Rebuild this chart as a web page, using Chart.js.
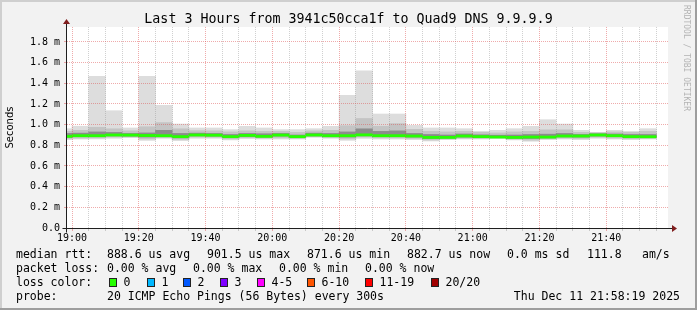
<!DOCTYPE html>
<html>
<head>
<meta charset="utf-8">
<script src="https://cdn.jsdelivr.net/npm/chart.js@4/dist/chart.umd.min.js"></script>
<style>
    html, body { margin: 0; padding: 0; background: #f2f2f2; }
    #wrap { position: relative; width: 697px; height: 310px; overflow: hidden; }
    #wrap canvas { position: absolute; left: 0; top: 0; }
    .txt { position: absolute; font-family: 'DejaVu Sans Mono', monospace; font-size: 11.5px; line-height: 14px; color: #000; white-space: pre; }
    #title { position: absolute; left: 0; top: 11px; width: 697px; text-align: center; font-family: 'DejaVu Sans Mono', monospace; font-size: 13.3px; line-height: 16px; color: #000; white-space: pre; }
    #mark { position: absolute; left: 682px; top: 5px; writing-mode: vertical-rl; font-family: 'DejaVu Sans Mono', monospace; font-size: 8px; line-height: 9px; color: #b4b4b4; white-space: pre; }
    .box { position: absolute; width: 8px; height: 9px; box-sizing: border-box; border: 1px solid #222; }
    .edge { position: absolute; }
</style>
</head>
<body>
<div id="wrap">
    <canvas id="chart" width="697" height="310"></canvas>
    <div id="title">Last 3 Hours from 3941c50cca1f to Quad9 DNS 9.9.9.9</div>
    <div id="mark">RRDTOOL / TOBI OETIKER</div>
    <div id="legend"></div>
    <div class="edge" style="left:0;top:0;width:697px;height:2px;background:#cfcfcf"></div>
    <div class="edge" style="left:0;top:0;width:2px;height:310px;background:#cfcfcf"></div>
    <div class="edge" style="left:0;top:308px;width:697px;height:2px;background:#9e9e9e"></div>
    <div class="edge" style="left:695px;top:0;width:2px;height:310px;background:#9e9e9e"></div>
</div>
<script>
// 5 minute slots (start time), 20 pings each, values in ms
let slots = ['18:55', '19:00', '19:05', '19:10', '19:15', '19:20', '19:25', '19:30', '19:35', '19:40', '19:45', '19:50',
    '19:55', '20:00', '20:05', '20:10', '20:15', '20:20', '20:25', '20:30', '20:35', '20:40', '20:45', '20:50',
    '20:55', '21:00', '21:05', '21:10', '21:15', '21:20', '21:25', '21:30', '21:35', '21:40', '21:45', '21:50'];
let pingMin = [0.855, 0.861, 0.861, 0.868, 0.874, 0.848, 0.868, 0.845, 0.868, 0.868, 0.852, 0.865,
    0.861, 0.861, 0.861, 0.877, 0.868, 0.848, 0.868, 0.861, 0.861, 0.855, 0.842, 0.855,
    0.861, 0.861, 0.868, 0.852, 0.839, 0.855, 0.861, 0.855, 0.868, 0.861, 0.855, 0.861];
let pingLow = [0.866, 0.870, 0.872, 0.880, 0.882, 0.862, 0.876, 0.858, 0.880, 0.878, 0.862, 0.874,
    0.870, 0.872, 0.868, 0.884, 0.876, 0.862, 0.880, 0.872, 0.872, 0.866, 0.852, 0.862,
    0.868, 0.868, 0.872, 0.860, 0.850, 0.864, 0.870, 0.866, 0.878, 0.870, 0.864, 0.868];
let pingQ1 = [0.878, 0.884, 0.885, 0.892, 0.890, 0.880, 0.885, 0.872, 0.892, 0.890, 0.874, 0.886,
    0.880, 0.890, 0.876, 0.892, 0.885, 0.880, 0.892, 0.884, 0.884, 0.880, 0.866, 0.870,
    0.880, 0.876, 0.876, 0.868, 0.866, 0.872, 0.882, 0.880, 0.890, 0.884, 0.874, 0.876];
let median = [0.887, 0.893, 0.893, 0.900, 0.899, 0.895, 0.893, 0.884, 0.900, 0.898, 0.884, 0.896,
    0.887, 0.899, 0.884, 0.900, 0.893, 0.893, 0.901, 0.893, 0.893, 0.890, 0.877, 0.877,
    0.890, 0.884, 0.880, 0.877, 0.880, 0.880, 0.890, 0.890, 0.900, 0.893, 0.884, 0.883];
let pingQ3 = [0.915, 0.918, 0.930, 0.925, 0.915, 0.920, 0.945, 0.915, 0.918, 0.915, 0.905, 0.915,
    0.912, 0.915, 0.900, 0.918, 0.915, 0.930, 0.960, 0.935, 0.940, 0.915, 0.905, 0.900,
    0.910, 0.902, 0.898, 0.900, 0.905, 0.908, 0.915, 0.905, 0.912, 0.910, 0.905, 0.905];
let pingHigh = [0.935, 0.945, 0.975, 0.960, 0.940, 0.980, 1.020, 0.960, 0.942, 0.940, 0.930, 0.940,
    0.935, 0.935, 0.925, 0.940, 0.945, 0.990, 1.060, 0.985, 1.010, 0.955, 0.935, 0.930,
    0.935, 0.925, 0.920, 0.930, 0.935, 0.950, 0.950, 0.925, 0.922, 0.930, 0.925, 0.935];
let pingMax = [0.961, 0.985, 1.467, 1.135, 0.968, 1.467, 1.187, 1.006, 0.968, 0.968, 0.952, 0.984,
    0.968, 0.952, 0.952, 0.961, 0.984, 1.284, 1.522, 1.103, 1.103, 0.993, 0.968, 0.968,
    0.961, 0.935, 0.945, 0.961, 0.984, 1.048, 1.006, 0.945, 0.926, 0.945, 0.935, 0.961];

let xTicks = [];
for (let m = 0; m <= 175; m += 5) xTicks.push(m);
let yTicks = [0, 0.1, 0.2, 0.3, 0.4, 0.5, 0.6, 0.7, 0.8, 0.9, 1.0, 1.1, 1.2, 1.3, 1.4, 1.5, 1.6, 1.7, 1.8, 1.9];

let legendRows = [
    { y: 247, items: [[16, 'median rtt:'], [107, '888.6 us avg'], [207, '901.5 us max'], [307, '871.6 us min'],
        [407, '882.7 us now'], [507, '0.0 ms sd'], [587, '111.8'], [642, 'am/s']] },
    { y: 261, items: [[16, 'packet loss:'], [107, '0.00 % avg'], [193, '0.00 % max'], [279, '0.00 % min'], [365, '0.00 % now']] },
    { y: 275, items: [[16, 'loss color:']] },
    { y: 289, items: [[16, 'probe:'], [107, '20 ICMP Echo Pings (56 Bytes) every 300s']] }
];
let lossLabels = ['0', '1', '2', '3', '4-5', '6-10', '11-19', '20/20'];
let lossColors = ['#26ff00', '#00b8ff', '#0059ff', '#7e00ff', '#ff00ff', '#ff5500', '#ff0000', '#a10000'];
let lossBoxX = [109, 147, 183, 220, 257, 307, 365, 431];

function slotCenter(s) {
    let parts = s.split(':');
    return (Number(parts[0]) - 19) * 60 + Number(parts[1]) + 2.5;
}

function band(lo, hi) {
    return slots.map(function (s, i) {
        return { x: slotCenter(s), y: [lo[i], hi[i]] };
    });
}

function timeLabel(v) {
    let h = 19 + Math.floor(v / 60);
    let m = v % 60;
    return h + ':' + (m < 10 ? '0' + m : m);
}

let legend = document.getElementById('legend');
for (let row of legendRows) {
    for (let item of row.items) {
        let span = document.createElement('div');
        span.className = 'txt';
        span.style.left = item[0] + 'px';
        span.style.top = row.y + 'px';
        span.textContent = item[1];
        legend.appendChild(span);
    }
}
for (let i = 0; i < lossLabels.length; i++) {
    let box = document.createElement('div');
    box.className = 'box';
    box.style.left = lossBoxX[i] + 'px';
    box.style.top = '278px';
    box.style.background = lossColors[i];
    legend.appendChild(box);
    let label = document.createElement('div');
    label.className = 'txt';
    label.style.left = (lossBoxX[i] + 14.5) + 'px';
    label.style.top = '275px';
    label.textContent = lossLabels[i];
    legend.appendChild(label);
}
let stamp = document.createElement('div');
stamp.className = 'txt';
stamp.style.right = '17px';
stamp.style.top = '289px';
stamp.textContent = 'Thu Dec 11 21:58:19 2025';
legend.appendChild(stamp);

let frame = {
    id: 'frame',
    beforeDraw: function (chart) {
        let ctx = chart.ctx;
        let a = chart.chartArea;
        ctx.save();
        ctx.fillStyle = '#f2f2f2';
        ctx.fillRect(0, 0, chart.width, chart.height);
        ctx.fillStyle = '#ffffff';
        ctx.fillRect(a.left, a.top, a.right - a.left, a.bottom - a.top);
        ctx.restore();
    },
    afterDraw: function (chart) {
        let ctx = chart.ctx;
        let a = chart.chartArea;
        let x0 = Math.round(a.left) - 0.5;
        let y0 = Math.round(a.bottom) + 0.5;
        ctx.save();
        ctx.strokeStyle = '#1f1f1f';
        ctx.lineWidth = 1;
        ctx.beginPath();
        ctx.moveTo(x0 - 4, y0);
        ctx.lineTo(a.right + 5, y0);
        ctx.moveTo(x0, y0 + 4);
        ctx.lineTo(x0, a.top - 3);
        ctx.stroke();
        ctx.fillStyle = '#801f1f';
        ctx.beginPath();
        ctx.moveTo(a.right + 4, y0 - 3.5);
        ctx.lineTo(a.right + 9, y0);
        ctx.lineTo(a.right + 4, y0 + 3.5);
        ctx.fill();
        ctx.beginPath();
        ctx.moveTo(x0 - 3.5, a.top - 3);
        ctx.lineTo(x0, a.top - 8);
        ctx.lineTo(x0 + 3.5, a.top - 3);
        ctx.fill();
        ctx.restore();
    }
};

function layer(lo, hi, color, order) {
    return {
        data: band(lo, hi),
        backgroundColor: color,
        borderWidth: 0,
        grouped: false,
        barPercentage: 1,
        categoryPercentage: 1,
        order: order
    };
}

let greenLo = median.map(function (v) { return v - 0.0105; });
let greenHi = median.map(function (v) { return v + 0.0105; });

let minorGrid = 'rgba(143, 143, 143, 0.42)';
let majorGrid = 'rgba(222, 79, 79, 0.48)';

new Chart(document.getElementById('chart').getContext('2d'), {
    type: 'bar',
    data: {
        datasets: [
            layer(pingMin, pingMax, '#dddddd', 5),
            layer(pingLow, pingHigh, '#c4c4c4', 4),
            layer(pingQ1, pingQ3, '#8c8c8c', 3),
            layer(greenLo, greenHi, '#26ff00', 1)
        ]
    },
    plugins: [frame],
    options: {
        responsive: false,
        animation: false,
        devicePixelRatio: 1,
        events: [],
        layout: { padding: { top: 27, right: 29, left: 0, bottom: 0 } },
        plugins: { legend: { display: false }, tooltip: { enabled: false }, title: { display: false } },
        scales: {
            x: {
                type: 'linear',
                min: -1.5,
                max: 178.5,
                offset: false,
                afterBuildTicks: function (scale) {
                    scale.ticks = xTicks.map(function (v) { return { value: v }; });
                },
                afterFit: function (scale) { scale.height = 82; },
                grid: {
                    offset: false,
                    z: 1,
                    color: function (c) { return c.tick && c.tick.value % 20 === 0 ? majorGrid : minorGrid; },
                    tickColor: function (c) { return c.tick && c.tick.value % 20 === 0 ? majorGrid : minorGrid; },
                    tickLength: 3
                },
                border: { display: false, dash: [1, 1] },
                ticks: {
                    autoSkip: false,
                    maxRotation: 0,
                    padding: 1,
                    color: '#000',
                    font: { family: 'DejaVu Sans Mono', size: 10 },
                    callback: function (v) { return v % 20 === 0 ? timeLabel(v) : ''; }
                }
            },
            y: {
                min: 0,
                max: 1.945,
                afterBuildTicks: function (scale) {
                    scale.ticks = yTicks.map(function (v) { return { value: v }; });
                },
                afterFit: function (scale) { scale.width = 67; },
                grid: {
                    z: 1,
                    color: function (c) { return c.tick && Math.round(c.tick.value * 10) % 2 === 0 ? majorGrid : minorGrid; },
                    tickColor: function (c) { return c.tick && Math.round(c.tick.value * 10) % 2 === 0 ? majorGrid : minorGrid; },
                    tickLength: 3
                },
                border: { display: false, dash: [1, 1] },
                title: {
                    display: true,
                    text: 'Seconds',
                    color: '#000',
                    padding: { top: 4, bottom: 0 },
                    font: { family: 'DejaVu Sans', size: 10 }
                },
                ticks: {
                    padding: 4,
                    color: '#000',
                    font: { family: 'DejaVu Sans Mono', size: 10 },
                    callback: function (v) {
                        let t = Math.round(v * 10);
                        if (t % 2 !== 0) return '';
                        return t === 0 ? '0.0' : (t / 10).toFixed(1) + ' m';
                    }
                }
            }
        }
    }
});
</script>
</body>
</html>
